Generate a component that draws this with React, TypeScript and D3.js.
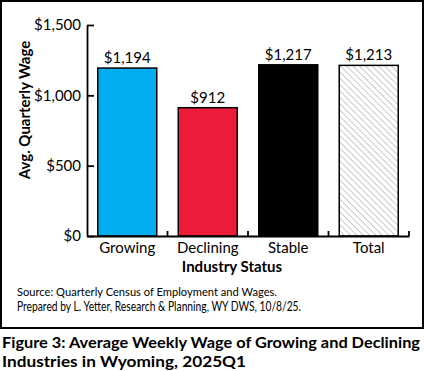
import { useEffect, useRef } from "react";
import * as d3 from "d3";

const categories = ["Growing", "Declining", "Stable", "Total"];
const wages = [1194, 912, 1217, 1213];
const yTicks = [0, 500, 1000, 1500];
const sourceLines = [
  "Source: Quarterly Census of Employment and Wages.",
  "Prepared by L. Yetter, Research & Planning, WY DWS, 10/8/25.",
];
const titleLines = [
  "Figure 3: Average Weekly Wage of Growing and Declining",
  "Industries in Wyoming, 2025Q1",
];

const FONT = "Lato, 'Open Sans', sans-serif";
const fills = ["#00AEEF", "#EE1C3A", "#000000", "url(#hatch)"];

function renderChart(el: SVGSVGElement) {
  const svg = d3.select(el);
  svg.selectAll("*").remove();

  const W = 425,
    H = 371;
  const left = 87,
    right = 409,
    top = 25,
    bottom = 236;

  svg.attr("width", W).attr("height", H).style("font-family", FONT);

  // hatch pattern for the total bar
  const defs = svg.append("defs");
  const pat = defs
    .append("pattern")
    .attr("id", "hatch")
    .attr("patternUnits", "userSpaceOnUse")
    .attr("width", 4.5)
    .attr("height", 4.5)
    .attr("patternTransform", "rotate(-45)");
  pat.append("rect").attr("width", 4.5).attr("height", 4.5).attr("fill", "#fff");
  pat
    .append("line")
    .attr("x1", 0)
    .attr("y1", 0)
    .attr("x2", 0)
    .attr("y2", 4.5)
    .attr("stroke", "#8c8c8c")
    .attr("stroke-width", 0.9);

  svg.append("rect").attr("width", W).attr("height", H).attr("fill", "#fff");

  // outer frame
  svg
    .append("rect")
    .attr("x", 1)
    .attr("y", 1)
    .attr("width", 422)
    .attr("height", 327)
    .attr("fill", "none")
    .attr("stroke", "#000")
    .attr("stroke-width", 2);

  const x = d3
    .scaleBand()
    .domain(categories)
    .range([left, right])
    .paddingInner(0.267)
    .paddingOuter(0.1335);

  const y = d3.scaleLinear().domain([0, 1500]).range([bottom, top]);

  // bars
  svg
    .selectAll("rect.bar")
    .data(wages)
    .join("rect")
    .attr("class", "bar")
    .attr("x", (_, i) => x(categories[i])!)
    .attr("y", (d) => y(d))
    .attr("width", x.bandwidth())
    .attr("height", (d) => y(0) - y(d))
    .attr("fill", (_, i) => fills[i])
    .attr("stroke", "#000")
    .attr("stroke-width", 1.5);

  // value labels
  svg
    .selectAll("text.val")
    .data(wages)
    .join("text")
    .attr("class", "val")
    .attr("x", (_, i) => x(categories[i])! + x.bandwidth() / 2)
    .attr("y", (d) => y(d) - 5)
    .attr("text-anchor", "middle")
    .attr("font-size", 15)
    .attr("fill", "#000")
    .text((d) => d3.format("$,")(d));

  // y axis, inside ticks
  const yAxis = svg
    .append("g")
    .attr("transform", `translate(${left},0)`)
    .call(
      d3
        .axisLeft(y)
        .tickValues(yTicks)
        .tickSizeInner(-7)
        .tickSizeOuter(0)
        .tickPadding(6)
        .tickFormat((d) => d3.format("$,")(d as number))
    );
  yAxis.select(".domain").attr("stroke", "#000").attr("stroke-width", 1.8);
  yAxis.selectAll(".tick line").attr("stroke", "#000").attr("stroke-width", 1.8);
  yAxis
    .selectAll(".tick text")
    .attr("font-size", 15)
    .attr("font-family", FONT)
    .attr("fill", "#000");

  // x axis
  const xAxis = svg
    .append("g")
    .attr("transform", `translate(0,${bottom})`)
    .call(d3.axisBottom(x).tickSize(0).tickPadding(6));
  xAxis.select(".domain").attr("stroke", "#000").attr("stroke-width", 1.8);
  xAxis
    .selectAll(".tick text")
    .attr("font-size", 15)
    .attr("font-family", FONT)
    .attr("fill", "#000");

  // band boundary ticks pointing up
  const bounds = categories.map((c) => x(c)! - (x.step() - x.bandwidth()) / 2).slice(1);
  bounds.push(right);
  svg
    .selectAll("line.xt")
    .data(bounds)
    .join("line")
    .attr("class", "xt")
    .attr("x1", (d) => d)
    .attr("x2", (d) => d)
    .attr("y1", bottom)
    .attr("y2", bottom - 5)
    .attr("stroke", "#000")
    .attr("stroke-width", 1.8);

  // axis titles
  svg
    .append("text")
    .attr("x", 232)
    .attr("y", 272)
    .attr("text-anchor", "middle")
    .attr("font-size", 15)
    .attr("font-weight", "bold")
    .text("Industry Status");

  svg
    .append("text")
    .attr("transform", "translate(30,110) rotate(-90)")
    .attr("text-anchor", "middle")
    .attr("font-size", 15)
    .attr("font-weight", "bold")
    .text("Avg. Quarterly Wage");

  // source notes
  svg
    .selectAll("text.src")
    .data(sourceLines)
    .join("text")
    .attr("class", "src")
    .attr("x", 17)
    .attr("y", (_, i) => 296 + i * 15)
    .attr("font-size", (_, i) => (i === 0 ? 12 : 13.5))
    .attr("textLength", (_, i) => (i === 0 ? 260 : 284))
    .attr("lengthAdjust", "spacingAndGlyphs")
    .text((d) => d);

  // figure title
  svg
    .selectAll("text.ttl")
    .data(titleLines)
    .join("text")
    .attr("class", "ttl")
    .attr("x", 2)
    .attr("y", (_, i) => 348 + i * 19)
    .attr("font-size", 16)
    .attr("font-weight", "bold")
    .attr("textLength", (_, i) => (i === 0 ? 418 : 244))
    .attr("lengthAdjust", "spacingAndGlyphs")
    .text((d) => d);
}

export default function App() {
  const ref = useRef<SVGSVGElement>(null);
  useEffect(() => {
    if (ref.current) renderChart(ref.current);
  }, []);
  return (
    <svg
      ref={ref}
      style={{ position: "absolute", left: 0, top: 0, display: "block" }}
    />
  );
}
